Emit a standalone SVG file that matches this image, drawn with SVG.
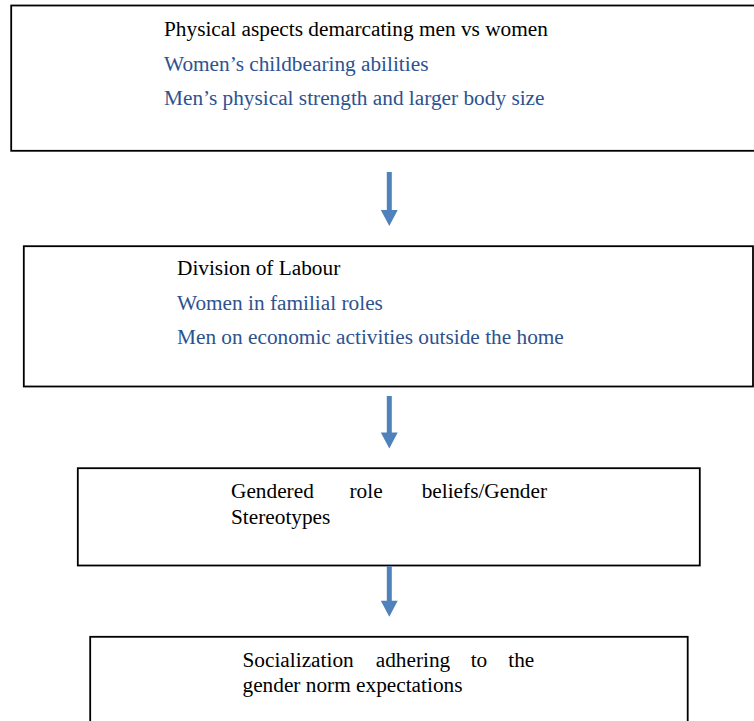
<svg xmlns="http://www.w3.org/2000/svg" width="754" height="721" viewBox="0 0 754 721">
<defs>
<style>
.box{fill:#fff;stroke:#000;stroke-width:1.8}
.t{font-family:"Liberation Serif","Times New Roman",serif;font-size:21.3px;fill:#000}
.b{fill:#2d5290}
.arr{fill:#4f81bd}
</style>
</defs>
<rect width="754" height="721" fill="#fff"/>
<g id="node-physical">
<rect class="box" x="11.2" y="5.5" width="760" height="145.3"/>
<text class="t" x="164" y="36">Physical aspects demarcating men vs women</text>
<text class="t b" x="164" y="71">Women’s childbearing abilities</text>
<text class="t b" x="164" y="105">Men’s physical strength and larger body size</text>
</g>
<g id="node-division">
<rect class="box" x="23.8" y="246.2" width="729.2" height="140.3"/>
<text class="t" x="177" y="275">Division of Labour</text>
<text class="t b" x="177" y="310">Women in familial roles</text>
<text class="t b" x="177" y="344">Men on economic activities outside the home</text>
</g>
<g id="node-beliefs">
<rect class="box" x="77.8" y="468.2" width="622" height="97.3"/>
<text class="t" y="497.5"><tspan x="231">Gendered</tspan><tspan x="349.5">role</tspan><tspan x="421.7">beliefs/Gender</tspan></text>
<text class="t" x="231" y="523.5">Stereotypes</text>
</g>
<g id="node-socialization">
<rect class="box" x="90.2" y="636.8" width="597.5" height="100"/>
<text class="t" y="666.5"><tspan x="242.5">Socialization</tspan><tspan x="375.7">adhering</tspan><tspan x="470.7">to</tspan><tspan x="508.3">the</tspan></text>
<text class="t" x="242.5" y="691.7">gender norm expectations</text>
</g>
<g id="connectors">
<polygon class="arr" points="386.8,172 391.8,172 391.8,210 397.7,210 389.3,226 380.8,210 386.8,210"/>
<polygon class="arr" points="386.8,396 391.8,396 391.8,432.5 397.7,432.5 389.3,448.5 380.8,432.5 386.8,432.5"/>
<polygon class="arr" points="386.8,566 391.8,566 391.8,600.7 397.7,600.7 389.3,616.7 380.8,600.7 386.8,600.7"/>
</g>
</svg>
